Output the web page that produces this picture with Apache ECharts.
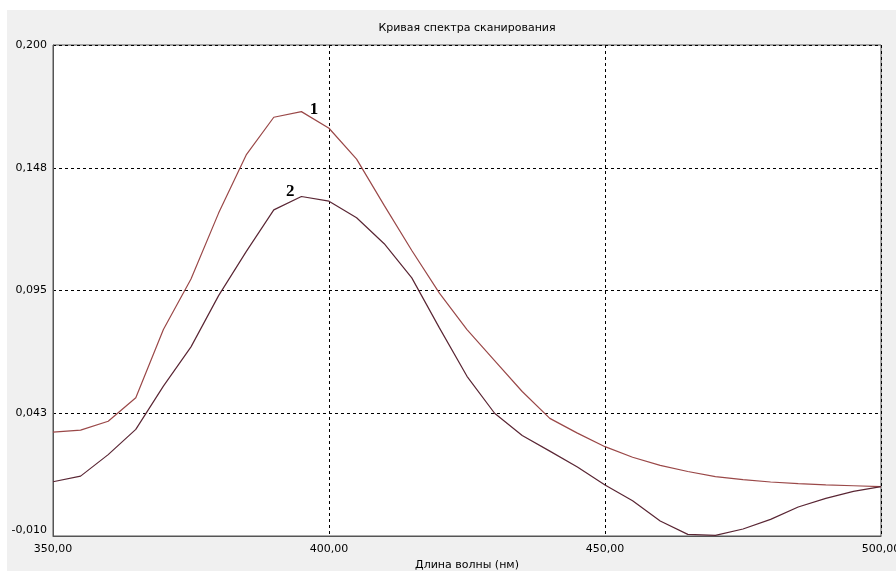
<!DOCTYPE html>
<html>
<head>
  <meta charset="UTF-8">
  <title>Кривая спектра сканирования</title>
  <script src="https://cdn.jsdelivr.net/npm/echarts@6.0.0/dist/echarts.min.js"></script>
  <style>
    html, body { margin: 0; padding: 0; background: #fff; }
    #chart { width: 896px; height: 571px; }
  </style>
</head>
<body>
  <div id="chart"></div>
  <script>
    // длины волн, нм
    const wavelengths = [350, 355, 360, 365, 370, 375, 380, 385, 390, 395, 400,
      405, 410, 415, 420, 425, 430, 435, 440, 445, 450,
      455, 460, 465, 470, 475, 480, 485, 490, 495, 500];
    // кривая 1
    const curve1 = [0.0344, 0.0353, 0.0391, 0.0491, 0.0783, 0.0999, 0.1281, 0.1530, 0.1691, 0.1715, 0.1644,
      0.1512, 0.1314, 0.1121, 0.0939, 0.0783, 0.0650, 0.0518, 0.0403, 0.0340, 0.0282,
      0.0237, 0.0202, 0.0176, 0.0154, 0.0141, 0.0131, 0.0124, 0.0119, 0.0115, 0.0111];
    // кривая 2
    const curve2 = [0.0132, 0.0156, 0.0248, 0.0356, 0.0541, 0.0709, 0.0928, 0.1116, 0.1295, 0.1352, 0.1332,
      0.1261, 0.1150, 0.1004, 0.0790, 0.0583, 0.0425, 0.0330, 0.0263, 0.0195, 0.0118,
      0.0051, -0.0036, -0.0093, -0.0097, -0.0070, -0.0029, 0.0024, 0.0061, 0.0091, 0.0111];

    // деления оси Y и их подписи
    const yTicks = [-0.01, 0.0425, 0.095, 0.1475, 0.2];
    const yTickLabels = ['-0,010', '0,043', '0,095', '0,148', '0,200'];
    const xTicks = [350, 400, 450, 500];

    // положения меток "1" и "2" (длина волны, значение)
    const mark1 = [397.3, 0.1722];
    const mark2 = [393.0, 0.1372];

    const font = 'DejaVu Sans';
    const dash = { color: '#000', type: [3, 3], width: 1 };

    function pairs(ys) {
      return wavelengths.map((x, i) => [x, ys[i]]);
    }

    function markLabel(coord, text) {
      return {
        symbol: 'circle',
        symbolSize: 1,
        silent: true,
        itemStyle: { color: 'rgba(0,0,0,0)' },
        label: {
          show: true, formatter: text, position: 'inside',
          fontFamily: 'Liberation Serif', fontWeight: 'bold', fontSize: 17, color: '#000'
        },
        data: [{ coord: coord }]
      };
    }

    const chart = echarts.init(document.getElementById('chart'));
    chart.setOption({
      animation: false,
      backgroundColor: '#fff',
      graphic: [{
        type: 'rect', z: -10, silent: true,
        shape: { x: 7, y: 10, width: 889, height: 561 },
        style: { fill: '#f0f0f0' }
      }],
      title: {
        text: 'Кривая спектра сканирования',
        left: 467, top: 23, padding: 0, textAlign: 'center',
        textStyle: { fontFamily: font, fontSize: 11, fontWeight: 'normal', color: '#000' }
      },
      grid: {
        left: 53, top: 45, right: 15, bottom: 35,
        outerBoundsMode: 'none', containLabel: false,
        show: true, backgroundColor: '#fff', borderColor: '#555', borderWidth: 1
      },
      xAxis: {
        type: 'value', min: 350, max: 500, interval: 50,
        name: 'Длина волны (нм)', nameLocation: 'middle', nameGap: 23,
        nameTextStyle: { fontFamily: font, fontSize: 11, color: '#000' },
        axisLine: { show: true, onZero: false, lineStyle: { color: '#555', width: 1 } },
        axisTick: { show: false },
        axisLabel: {
          fontFamily: font, fontSize: 11, color: '#000', margin: 8,
          customValues: xTicks,
          formatter: v => v.toFixed(2).replace('.', ',')
        },
        splitLine: { show: true, lineStyle: dash }
      },
      yAxis: {
        type: 'value', min: -0.01, max: 0.2,
        axisLine: { show: true, onZero: false, lineStyle: { color: '#555', width: 1 } },
        axisTick: { show: false, customValues: yTicks },
        axisLabel: {
          fontFamily: font, fontSize: 11, color: '#000', margin: 6,
          customValues: yTicks,
          formatter: (v) => {
            const i = yTicks.findIndex(t => Math.abs(t - v) < 1e-6);
            const s = i >= 0 ? yTickLabels[i] : '';
            return i === 0 ? '{lo|' + s + '}' : s;
          },
          rich: { lo: { fontFamily: font, fontSize: 11, color: '#000', padding: [0, 0, 12, 0] } }
        },
        splitLine: { show: true, lineStyle: dash }
      },
      series: [
        {
          name: '1', type: 'line', data: pairs(curve1), showSymbol: false,
          lineStyle: { color: '#9a4848', width: 1.2 },
          markPoint: markLabel(mark1, '1')
        },
        {
          name: '2', type: 'line', data: pairs(curve2), showSymbol: false,
          lineStyle: { color: '#5a2634', width: 1.2 },
          markPoint: markLabel(mark2, '2')
        }
      ]
    });
  </script>
</body>
</html>
